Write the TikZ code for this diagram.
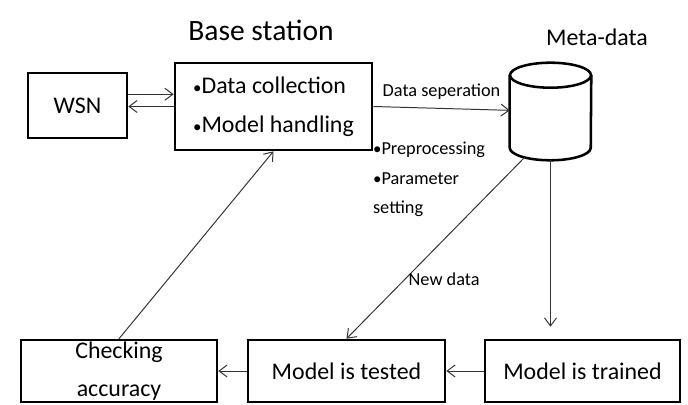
\documentclass[tikz,border=0pt]{standalone}
\usepackage{fontspec}
\setmainfont{Carlito}
\usetikzlibrary{scopes,positioning,arrows.meta}

\newcommand{\bul}{{\fontsize{12}{12}\selectfont•}}

\begin{document}
\begin{tikzpicture}[
    x=0.025cm, y=-0.025cm,
    box/.style={rectangle,draw,line width=1.8pt,inner sep=0pt,font=\fontsize{17}{28}\selectfont},
    db/.style={rectangle,minimum width=2.025cm,minimum height=2.425cm,inner sep=0pt},
    dbline/.style={line width=1.8pt},
    conn/.style={>={Straight Barb[length=0.2cm,width=0.3cm]},draw=black!80,line width=0.7pt},
    lbl/.style={font=\fontsize{13}{21}\selectfont,inner sep=2pt},
    title/.style={font=\fontsize{21}{25}\selectfont},
]
    \useasboundingbox (0,0) rectangle (688,405);

    % Titles
    \node[title] (bstitle) at (261,30) {Base station};
    \node[title,font=\fontsize{17}{20}\selectfont] (metatitle) at (597,37) {Meta-data};

    % Top row
    \node[box,minimum width=2.475cm,minimum height=1.625cm] (wsn) at (77.5,105.5) {WSN};
    \node[box,minimum width=4.925cm,minimum height=2.175cm,align=left] (bs) at (273.5,106.5) {\bul Data collection\\\bul Model handling};
    \node[lbl,align=left,anchor=north west] (prep) at (370,139) {\bul Preprocessing\\\bul Parameter\\setting};

    % Meta-data store (cylinder)
    \node[db] (meta) at (550.5,111.5) {};
    \draw[dbline] ([yshift=-0.3125cm]meta.north) ellipse [x radius=1.0125cm, y radius=0.3125cm];
    \draw[dbline] ([yshift=-0.3125cm]meta.north west) -- ([yshift=0.3125cm]meta.south west)
        arc [start angle=180, end angle=360, x radius=1.0125cm, y radius=0.3125cm]
        -- ([yshift=-0.3125cm]meta.north east);

    % Bottom row
    \node[box,minimum width=4.875cm,minimum height=1.55cm] (trained) at (582.5,371) {Model is trained};
    \node[box,minimum width=4.925cm,minimum height=1.55cm] (tested) at (346.5,371) {Model is tested};
    \node[box,minimum width=4.9cm,minimum height=1.55cm,align=center,font=\fontsize{17}{27}\selectfont] (check) at (119,371) {Checking\\accuracy};

    % Connectors
    {[conn,->]
        \draw ([yshift=8pt]wsn.east) -- ([yshift=8pt]wsn.east -| bs.west);
        \draw (bs.west) -- (bs.west -| wsn.east);
        \draw (bs.east) -- (meta) node[midway,above=4pt,lbl] {Data seperation};
        \draw ([xshift=-0.64cm,yshift=0.08cm]meta.south) -- (tested.north) node[pos=0.67,right,lbl] {New data};
        \draw (meta.south) -- ([yshift=0.3cm]meta.south |- trained.north);
        \draw (trained.west) -- (tested.east);
        \draw (tested.west) -- (check.east);
        \draw (check.north) -- (bs.south);
    }

\end{tikzpicture}
\end{document}
